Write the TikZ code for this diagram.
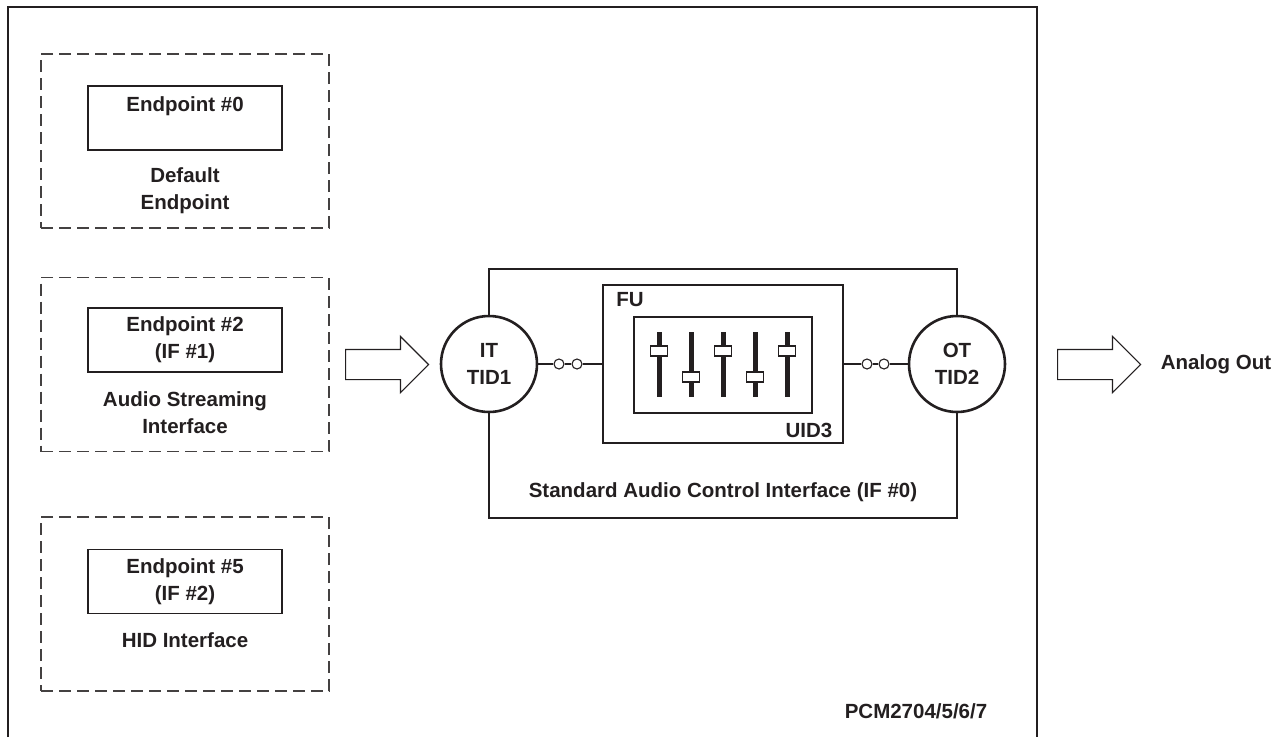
\documentclass[tikz,border=0pt]{standalone}
\usepackage{fontspec}
\setmainfont{Liberation Sans}
\usetikzlibrary{shapes.arrows}
\definecolor{ink}{HTML}{231F20}
\tikzset{lbl/.style={inner sep=0pt, align=center, text=ink,
                     font=\fontsize{20.5}{27}\selectfont\bfseries},
         dashbox/.style={draw=ink!85, line width=1.4pt, dash pattern=on 12pt off 6pt,
                         minimum width=288pt, minimum height=174pt},
         epbox/.style={lbl, draw=ink, line width=1.3pt, minimum width=194pt, minimum height=64pt},
         term/.style={lbl, circle, draw=ink, line width=2.6pt, fill=white, minimum size=96pt},
         joint/.style={circle, draw=ink, line width=1.1pt, fill=white, inner sep=0pt, minimum size=10pt},
         blockarrow/.style={single arrow, draw=ink, line width=1.2pt, inner sep=14.5pt,
                            minimum height=83pt, single arrow head extend=13pt}}

\begin{document}
\begin{tikzpicture}[x=1pt, y=-1pt]
        \useasboundingbox (0,0) rectangle (1283,737);

        % Frame
        \draw[ink, line width=1.4pt] (8,737) -- (8,7) -- (1037,7) -- (1037,737);

        % Endpoints
        \node[dashbox] (ifdef) at (185,141) {};
        \node[epbox] (ep0) at (185,118) {Endpoint \#0\\ \mbox{}};
        \node[lbl] (capdef) at (185,190.5) {Default\\Endpoint};

        \node[dashbox] (ifas) at (185,364.5) {};
        \node[epbox] (ep2) at (185,340) {Endpoint \#2\\(IF \#1)};
        \node[lbl] (capas) at (185,413) {Audio Streaming\\Interface};

        \node[dashbox] (ifhid) at (185,604) {};
        \node[epbox] (ep5) at (185,581.5) {Endpoint \#5\\(IF \#2)};
        \node[lbl] (caphid) at (185,640) {HID Interface};

        % Audio control interface
        \node[draw=ink, line width=1.4pt, minimum width=468pt, minimum height=249pt] (aci) at (723,393.5) {};
        \node[lbl] (acilbl) at (723,492) {Standard Audio Control Interface (IF \#0)};
        \node[draw=ink, line width=1.4pt, minimum width=240pt, minimum height=158pt] (fu) at (723,364) {};
        \node[lbl] (fulbl) at (630,300) {FU};
        \node[draw=ink, line width=1.4pt, minimum width=178pt, minimum height=96pt] (uid) at (723,365) {};
        \node[lbl] (uidlbl) at (809,430) {UID3};

        % Faders
        \foreach \i/\k in {0/351, 1/377, 2/351, 3/377, 4/351} {
            \draw[ink, line width=5pt] (659+32*\i,332) -- (659+32*\i,397);
            \node[draw=ink, line width=1.3pt, fill=white, inner sep=0pt,
                  minimum width=17pt, minimum height=10pt] (knob\i) at (659+32*\i,\k) {};
        }

        % Terminals
        \node[term] (it) at (489,364) {IT\\TID1};
        \node[term] (ot) at (957,364) {OT\\TID2};
        \node[joint] (j1) at (559,364) {};
        \node[joint] (j2) at (577,364) {};
        \node[joint] (j3) at (867,364) {};
        \node[joint] (j4) at (884,364) {};

        % Edges
        \draw[ink, line width=1.1pt] (it) -- (j1) -- (j2) -- (fu);
        \draw[ink, line width=1.1pt] (fu) -- (j3) -- (j4) -- (ot);

        % Arrows
        \node[blockarrow, anchor=tail] (inarr) at (345,364.5) {};
        \node[blockarrow, anchor=tail] (outarr) at (1057,364.5) {};
        \node[lbl] (analog) at (1216,364) {Analog Out};
        \node[lbl] (part) at (916,711) {PCM2704/5/6/7};

\end{tikzpicture}
\end{document}
